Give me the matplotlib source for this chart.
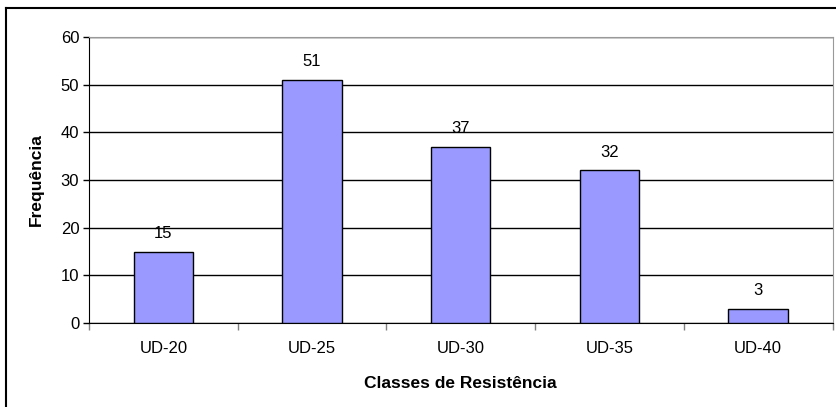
import matplotlib.pyplot as plt
from matplotlib.lines import Line2D

classes = ['UD-20', 'UD-25', 'UD-30', 'UD-35', 'UD-40']
frequencia = [15, 51, 37, 32, 3]
y_ticks = [0, 10, 20, 30, 40, 50, 60]

plt.rcParams['font.family'] = ['Liberation Sans', 'DejaVu Sans']

fig = plt.figure(figsize=(8.36, 4.07), dpi=100)
W, H = 836, 407
ax = fig.add_axes([89 / W, 1 - 323 / H, (832.5 - 89) / W, (323 - 37) / H])

x = list(range(len(classes)))
bars = ax.bar(x, frequencia, width=0.4, color='#9999FF', edgecolor='black', linewidth=1, zorder=3)
for b, v in zip(bars, frequencia):
    ax.text(b.get_x() + b.get_width() / 2, v + 2.2, str(v), ha='center', va='bottom', fontsize=12)

ax.set_xlim(-0.5, len(classes) - 0.5)
ax.set_ylim(0, 60)
ax.set_yticks(y_ticks)
ax.tick_params(axis='y', labelsize=12, length=4, direction='out', width=1, pad=3)
ax.set_xticks(x)
ax.set_xticklabels(classes)
ax.tick_params(axis='x', labelsize=12, length=0, pad=13)
# category boundary ticks on the x axis
ax.set_xticks([i - 0.5 for i in range(len(classes) + 1)], minor=True)
ax.tick_params(axis='x', which='minor', length=5, color='gray', width=1)

ax.yaxis.grid(True, color='black', linewidth=1, zorder=0)
ax.set_axisbelow(True)
for s in ['top', 'right']:
    ax.spines[s].set_color('#999999')
ax.spines['left'].set_color('black')
ax.spines['bottom'].set_color('black')

ax.set_ylabel('Frequência', fontsize=12.5, fontweight='bold', labelpad=12)
ax.set_xlabel('Classes de Resistência', fontsize=12.5, fontweight='bold', labelpad=14)

# outer frame
fig.add_artist(Line2D([6 / W, 6 / W], [0, 1 - 8 / H], color='black', linewidth=1.5, transform=fig.transFigure))
fig.add_artist(Line2D([6 / W, 1], [1 - 8 / H, 1 - 8 / H], color='black', linewidth=1.5, transform=fig.transFigure))

fig.savefig('out.png', dpi=100)
